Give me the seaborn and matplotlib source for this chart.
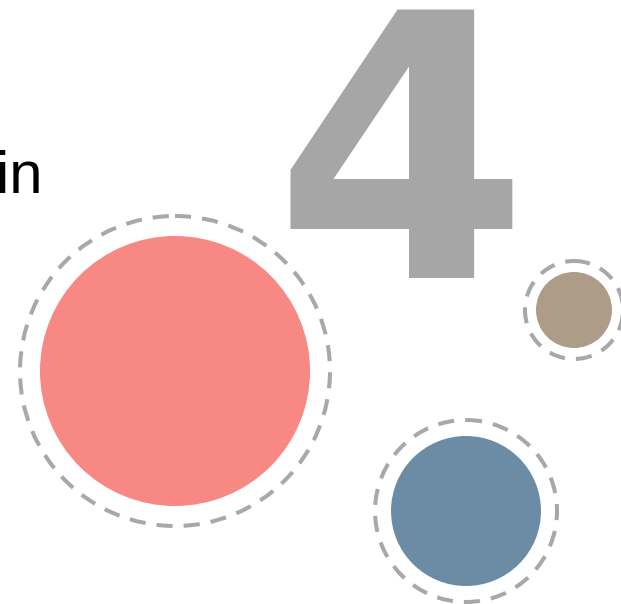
import matplotlib
matplotlib.use("Agg")
import matplotlib.pyplot as plt
from matplotlib.patches import Circle
import seaborn as sns

sns.set_theme(style="white")
plt.rcParams["font.family"] = ["DejaVu Sans"]

# bubbles (canvas units, y down)
BUBBLE_X = [175, 574, 466]
BUBBLE_Y = [371, 310, 511]
BUBBLE_R = [135, 38, 75]
BUBBLE_COLORS = ["#F78884", "#AD9C88", "#6C8CA6"]
RING_PAD = [20, 11, 16]

BIG_NUMBER = "4"
SIDE_TEXT = "in"

fig = plt.figure(figsize=(6.21, 6.04), dpi=100)
ax = fig.add_axes([0, 0, 1, 1])
ax.set_xlim(0, 621)
ax.set_ylim(604, 0)
ax.set_aspect("equal")
ax.axis("off")

for x, y, r, c, pad in zip(BUBBLE_X, BUBBLE_Y, BUBBLE_R, BUBBLE_COLORS, RING_PAD):
    ax.add_patch(Circle((x, y), r, color=c, lw=0, zorder=2))
    ax.add_patch(Circle((x, y), r + pad, fill=False, ec="#A8A8A8", lw=2.9,
                        ls=(0, (4.0, 2.75)), zorder=2))

ax.text(401, 278, BIG_NUMBER, fontsize=264, fontweight="bold", color="#A6A6A6",
        ha="center", va="baseline", zorder=1)
ax.text(-4, 193, SIDE_TEXT, fontsize=43, color="black", ha="left", va="baseline",
        family=["Liberation Sans", "DejaVu Sans"])

fig.savefig("out.png", dpi=100)
plt.close(fig)
